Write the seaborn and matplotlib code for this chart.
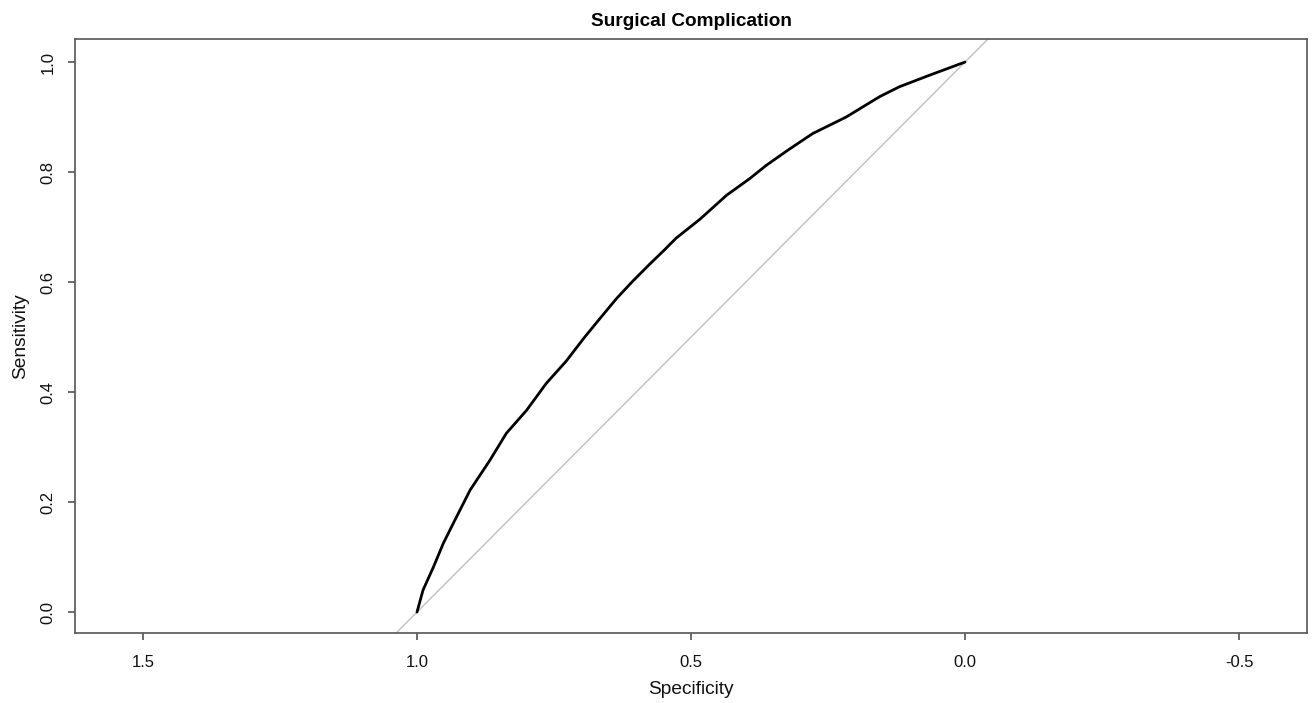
import numpy as np
import pandas as pd
import seaborn as sns
import matplotlib.pyplot as plt

# ROC curve points (specificity, sensitivity)
specificity = [1.000, 0.989, 0.970, 0.952, 0.934, 0.903, 0.867, 0.837, 0.800, 0.764,
               0.728, 0.694, 0.666, 0.636, 0.606, 0.575, 0.550, 0.527, 0.484, 0.435,
               0.393, 0.363, 0.323, 0.278, 0.217, 0.156, 0.120, 0.065, 0.000]
sensitivity = [0.000, 0.040, 0.082, 0.125, 0.161, 0.222, 0.276, 0.325, 0.367, 0.416,
               0.456, 0.500, 0.534, 0.570, 0.602, 0.633, 0.657, 0.680, 0.714, 0.758,
               0.788, 0.812, 0.840, 0.870, 0.900, 0.937, 0.955, 0.976, 1.000]
x_ticks = [1.5, 1.0, 0.5, 0.0, -0.5]
y_ticks = [0.0, 0.2, 0.4, 0.6, 0.8, 1.0]

df = pd.DataFrame({"Specificity": specificity, "Sensitivity": sensitivity})

sns.set_style("white")
plt.rcParams['font.family'] = ['Liberation Sans', 'DejaVu Sans']

fig = plt.figure(figsize=(13.14, 7.03), dpi=100)
ax = fig.add_axes([0.0571, 0.0996, 0.9376, 0.845])

# chance diagonal
ax.axline((1.0, 0.0), (0.0, 1.0), color="#c4c4c4", lw=1.1, zorder=1)
sns.lineplot(data=df, x="Specificity", y="Sensitivity", sort=False, estimator=None,
             color="black", lw=2.0, ax=ax, zorder=2)

ax.set_xlim(1.624, -0.624)
ax.set_ylim(-0.038, 1.042)
ax.set_xticks(x_ticks)
ax.set_xticklabels([f"{t:.1f}" for t in x_ticks])
ax.set_yticks(y_ticks)
ax.set_yticklabels([f"{t:.1f}" for t in y_ticks], rotation=90, va="center")

for s in ax.spines.values():
    s.set_color("#555555")
    s.set_linewidth(1.2)
ax.tick_params(axis="both", direction="out", length=5, width=1.1, color="#444444",
               labelsize=12, labelcolor="#111111")
ax.tick_params(axis="x", pad=10.5)
ax.tick_params(axis="y", pad=9)
ax.tick_params(left=True, bottom=True)

ax.set_xlabel("Specificity", fontsize=13.8, labelpad=8, color="#111111")
ax.set_ylabel("Sensitivity", fontsize=13.8, labelpad=8, color="#111111")
ax.set_title("Surgical Complication", fontsize=13.7, fontweight="bold", pad=9,
             color="black")

plt.savefig("out.png", dpi=100)
